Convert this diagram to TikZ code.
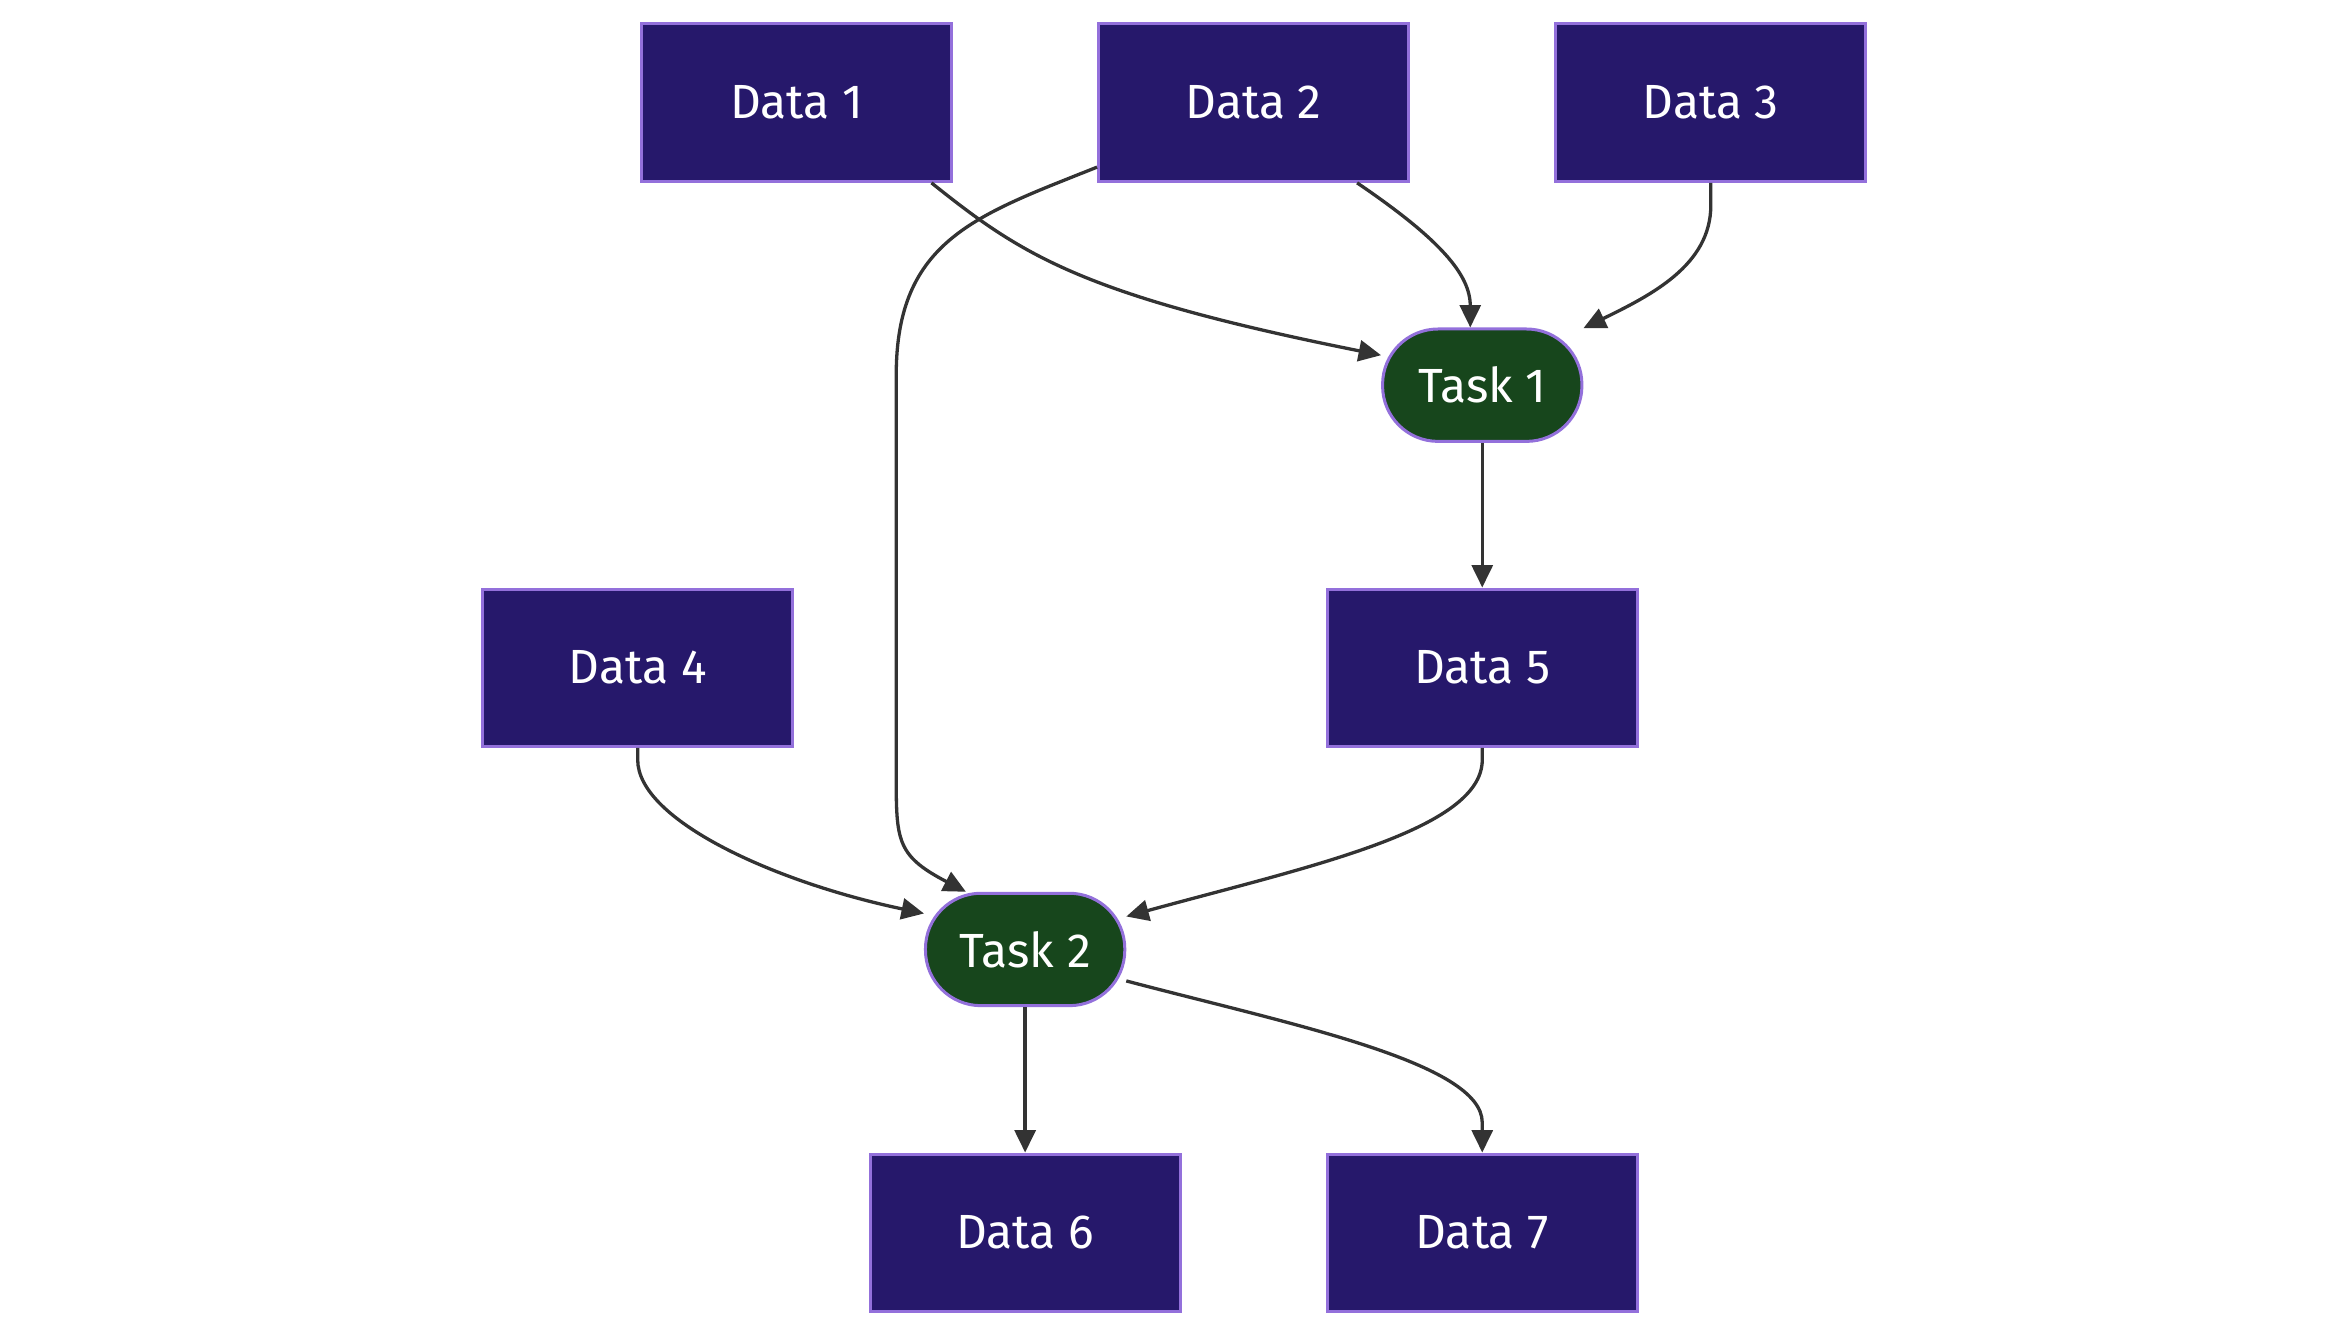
\documentclass[tikz,border=0pt]{standalone}
\usepackage{fontspec}
\setmainfont{Fira Sans}
\usetikzlibrary{arrows.meta,calc}
\definecolor{boxfill}{HTML}{26186B}
\definecolor{boxline}{HTML}{9370DB}
\definecolor{taskfill}{HTML}{17461C}
\definecolor{edgecol}{HTML}{333333}
\begin{document}
\begin{tikzpicture}[x=0.5pt,y=-0.5pt,
  databox/.style={draw=boxline,fill=boxfill,line width=1pt,minimum width=103.5pt,minimum height=52.5pt,inner sep=0pt,text=white,font=\fontsize{16}{18}\selectfont},
  taskbox/.style={draw=boxline,fill=taskfill,line width=1pt,rounded corners=18.5pt,minimum width=66.5pt,minimum height=37.5pt,inner sep=0pt,text=white,font=\fontsize{16}{18}\selectfont},
  edge/.style={draw=edgecol,line width=1.1pt,-{Triangle[length=7.5pt,width=7pt]}}]
\useasboundingbox (0,0) rectangle (1568,891);
\node[databox] (d1) at (531.5,68.5) {Data 1};
\node[databox] (d2) at (836.5,68.5) {Data 2};
\node[databox] (d3) at (1141.5,68.5) {Data 3};
\node[taskbox] (t1) at (989,257) {Task 1};
\node[databox] (d4) at (425.5,445.5) {Data 4};
\node[databox] (d5) at (989,445.5) {Data 5};
\node[taskbox] (t2) at (684,633.5) {Task 2};
\node[databox] (d6) at (684,822.5) {Data 6};
\node[databox] (d7) at (989,822.5) {Data 7};
% Data1 -> Task1
\draw[edge] ($(d1.south)+(90,0)$) .. controls ($(d1.south)+(150,48)$) and ($(t1.west)+(-200,-60)$) .. ($(t1.west)+(0,-20)$);
% Data2 -> Task1
\draw[edge] ($(d2.south)+(69,0)$) .. controls ($(d2.south)+(125,38)$) and ($(t1.north)+(-8,-35)$) .. ($(t1.north)+(-8,0)$);
% Data3 -> Task1
\draw[edge] (d3.south) -- ($(d3.south)+(0,15)$) .. controls ($(d3.south)+(0,55)$) and ($(t1.east)+(45,-60)$) .. ($(t1.east)+(0,-38)$);
% Task1 -> Data5
\draw[edge] (t1.south) -- (d5.north);
% Data2 -> Task2
\draw[edge] ($(d2.west)+(0,43)$) .. controls ($(d2.west)+(-80,75)$) and (598,160) .. (598,250) -- (598,510) .. controls (598,560) and ($(t2.north west)+(-20,-25)$) .. ($(t2.north west)+(28,0)$);
% Data4 -> Task2
\draw[edge] (d4.south) -- ($(d4.south)+(0,8)$) .. controls ($(d4.south)+(0,48)$) and ($(t2.west)+(-100,-45)$) .. ($(t2.west)+(0,-24)$);
% Data5 -> Task2
\draw[edge] (d5.south) -- ($(d5.south)+(0,8)$) .. controls ($(d5.south)+(0,55)$) and ($(t2.east)+(120,-55)$) .. ($(t2.east)+(0,-22)$);
% Task2 -> Data6
\draw[edge] (t2.south) -- (d6.north);
% Task2 -> Data7
\draw[edge] ($(t2.east)+(0,21)$) .. controls ($(t2.east)+(110,50)$) and ($(d7.north)+(0,-60)$) .. ($(d7.north)+(0,-20)$) -- (d7.north);
\end{tikzpicture}
\end{document}
